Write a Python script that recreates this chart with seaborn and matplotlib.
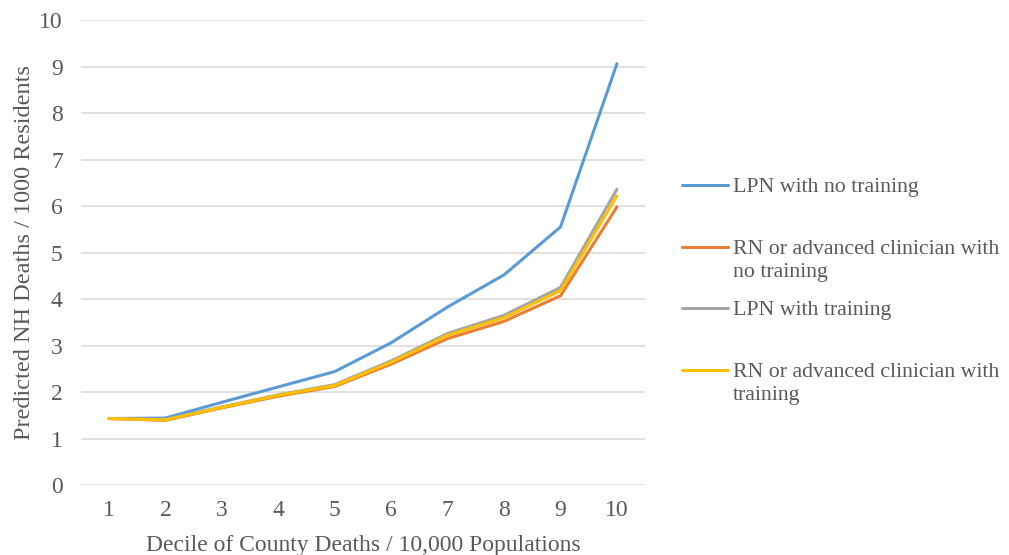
import matplotlib

matplotlib.use("Agg")
import matplotlib.pyplot as plt
import pandas as pd
import seaborn as sns
from matplotlib.lines import Line2D


DECILES = [1, 2, 3, 4, 5, 6, 7, 8, 9, 10]
LPN_NO_TRAINING = [1.43, 1.44, 1.78, 2.11, 2.44, 3.06, 3.83, 4.52, 5.55, 9.06]
RN_NO_TRAINING = [1.43, 1.39, 1.66, 1.91, 2.12, 2.60, 3.15, 3.52, 4.07, 5.98]
LPN_TRAINING = [1.43, 1.41, 1.68, 1.94, 2.16, 2.67, 3.26, 3.65, 4.25, 6.36]
RN_TRAINING = [1.43, 1.40, 1.67, 1.93, 2.14, 2.64, 3.22, 3.60, 4.18, 6.22]
SERIES_NAMES = [
    "LPN with no training",
    "RN or advanced clinician with\nno training",
    "LPN with training",
    "RN or advanced clinician with\ntraining",
]
COLORS = ["#5B9BD5", "#ED7D31", "#A5A5A5", "#FFC000"]
Y_TICKS = list(range(0, 11))

TEXT_COLOR = "#595959"
GRID_COLOR = "#D9D9D9"
FONT_SIZE = 17
LEGEND_FONT_SIZE = 15.7
FIG_W, FIG_H = 1009, 555


def build_frame() -> pd.DataFrame:
    frames = []
    for name, values in zip(SERIES_NAMES, [LPN_NO_TRAINING, RN_NO_TRAINING, LPN_TRAINING, RN_TRAINING]):
        frames.append(pd.DataFrame({"decile": DECILES, "deaths": values, "series": name}))
    return pd.concat(frames, ignore_index=True)


def draw_legend(fig) -> None:
    # Excel-style legend: handle on the first text line, wrapped lines below it
    handle_x0, handle_x1, text_x = 682, 728, 733
    first_y, step_y, line_step = 185, 61.7, 23
    for i, (name, color) in enumerate(zip(SERIES_NAMES, COLORS)):
        y = first_y + i * step_y
        fig.add_artist(
            Line2D(
                [handle_x0 / FIG_W, handle_x1 / FIG_W],
                [1 - y / FIG_H, 1 - y / FIG_H],
                transform=fig.transFigure,
                color=color,
                linewidth=2.2,
            )
        )
        for j, line in enumerate(name.split("\n")):
            baseline = y + 7 + j * line_step
            fig.text(
                text_x / FIG_W,
                1 - baseline / FIG_H,
                line,
                fontsize=LEGEND_FONT_SIZE,
                color=TEXT_COLOR,
                ha="left",
                va="baseline",
            )


def main() -> None:
    sns.set_theme(style="white")
    plt.rcParams["font.family"] = ["Liberation Serif", "DejaVu Serif"]

    df = build_frame()

    fig = plt.figure(figsize=(FIG_W / 100, FIG_H / 100), dpi=100)
    ax = fig.add_axes([0.0801, 0.1261, 0.5593, 0.8378])

    sns.lineplot(
        data=df,
        x="decile",
        y="deaths",
        hue="series",
        hue_order=SERIES_NAMES,
        palette=COLORS,
        linewidth=2.2,
        ax=ax,
        legend=False,
    )

    ax.set_xlim(0.5, 10.5)
    ax.set_ylim(0, 10)
    ax.set_xticks(DECILES)
    ax.set_yticks(Y_TICKS)
    ax.yaxis.grid(True, color=GRID_COLOR, linewidth=1.1)
    ax.set_axisbelow(True)
    for spine in ax.spines.values():
        spine.set_visible(False)
    ax.tick_params(axis="both", length=0, labelsize=FONT_SIZE, labelcolor=TEXT_COLOR)
    ax.tick_params(axis="y", pad=13)
    ax.tick_params(axis="x", pad=11)

    ax.set_xlabel("Decile of County Deaths / 10,000 Populations", fontsize=FONT_SIZE, color=TEXT_COLOR, labelpad=10)
    ax.set_ylabel("Predicted NH Deaths / 1000 Residents", fontsize=17.5, color=TEXT_COLOR, labelpad=3)

    draw_legend(fig)

    fig.savefig("out.png", dpi=100)
    plt.close(fig)


if __name__ == "__main__":
    main()
